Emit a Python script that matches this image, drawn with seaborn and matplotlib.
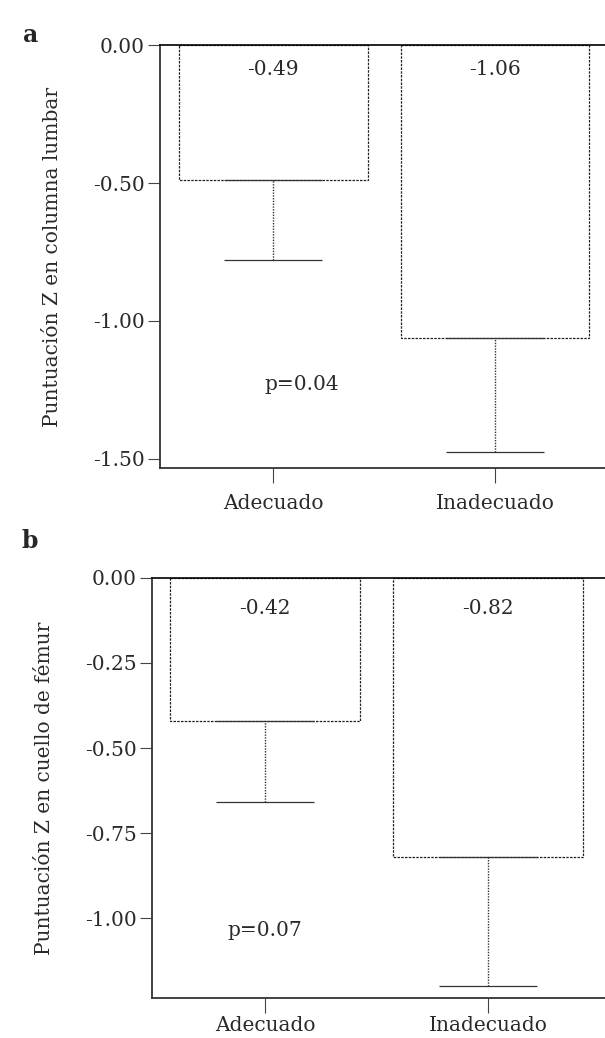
import matplotlib
matplotlib.use('Agg')
import matplotlib.pyplot as plt
import seaborn as sns

sns.set_theme(style='white')
plt.rcParams['font.family'] = ['DejaVu Serif', 'DejaVu Sans']

groups = ['Adecuado', 'Inadecuado']

# panel a: lumbar spine
lumbar_mean = [-0.49, -1.06]
lumbar_err = [0.29, 0.415]
lumbar_labels = ['-0.49', '-1.06']
lumbar_p = 'p=0.04'
lumbar_ticks = [0.0, -0.5, -1.0, -1.5]

# panel b: femoral neck
femur_mean = [-0.42, -0.82]
femur_err = [0.24, 0.38]
femur_labels = ['-0.42', '-0.82']
femur_p = 'p=0.07'
femur_ticks = [0.0, -0.25, -0.5, -0.75, -1.0]

dot = (0, (1, 1))
fs = 14.5
ink = '#2a2a2a'

fig = plt.figure(figsize=(6.05, 10.38), dpi=100)
ax_a = fig.add_axes([0.2645, 0.5491, 0.7355, 0.4075])
ax_b = fig.add_axes([0.2512, 0.0385, 0.7488, 0.4047])


def panel(ax, means, errs, labels, ptxt, ppos, ticks, ylim, xlim, ylabel, xpad):
    sns.barplot(x=groups, y=means, color='white', edgecolor='#222222',
                linewidth=0.9, linestyle=(0, (2, 1)), width=0.85,
                errorbar=None, ax=ax, zorder=2)
    for p in ax.patches:
        p.set_facecolor('white')
    eb = ax.errorbar(range(len(means)), means, yerr=[errs, [0] * len(errs)],
                     fmt='none', ecolor='#333333', elinewidth=1.0, capsize=35,
                     capthick=0.9, zorder=3)
    for lc in eb[2]:
        lc.set_linestyle(dot)
    for i, lab in enumerate(labels):
        ax.text(i, -0.09, lab, ha='center', va='center', fontsize=fs, color=ink)
    ax.text(ppos[0], ppos[1], ptxt, ha='center', va='center', fontsize=fs, color=ink)
    ax.set_ylim(*ylim)
    ax.set_xlim(*xlim)
    ax.set_yticks(ticks)
    ax.set_yticklabels([f'{t:.2f}' for t in ticks], fontsize=fs, color=ink)
    ax.tick_params(axis='x', labelsize=fs, length=11, width=0.8, pad=xpad,
                   direction='out', bottom=True, color='#444444', labelcolor=ink)
    ax.tick_params(axis='y', length=9, width=0.8, pad=2, direction='out',
                   left=True, color='#444444')
    ax.set_ylabel(ylabel, fontsize=fs, labelpad=22, color=ink)
    ax.set_xlabel('')
    for s in ['left', 'bottom']:
        ax.spines[s].set_linestyle(dot)
        ax.spines[s].set_linewidth(1.3)
        ax.spines[s].set_color('#333333')
    ax.spines['top'].set_color('black')
    ax.spines['top'].set_linewidth(1.2)
    ax.spines['right'].set_visible(False)
    ax.grid(False)


panel(ax_a, lumbar_mean, lumbar_err, lumbar_labels, lumbar_p, (0.13, -1.23),
      lumbar_ticks, (-1.533, 0.0), (-0.51, 1.495),
      'Puntuación Z en columna lumbar', 8)
panel(ax_b, femur_mean, femur_err, femur_labels, femur_p, (0.0, -1.035),
      femur_ticks, (-1.235, 0.0), (-0.507, 1.525),
      'Puntuación Z en cuello de fémur', 2)

fig.text(0.05, 0.966, 'a', fontsize=17, fontweight='bold', ha='center', va='center')
fig.text(0.05, 0.479, 'b', fontsize=17, fontweight='bold', ha='center', va='center')

fig.savefig('out.png', dpi=100, facecolor='white')
